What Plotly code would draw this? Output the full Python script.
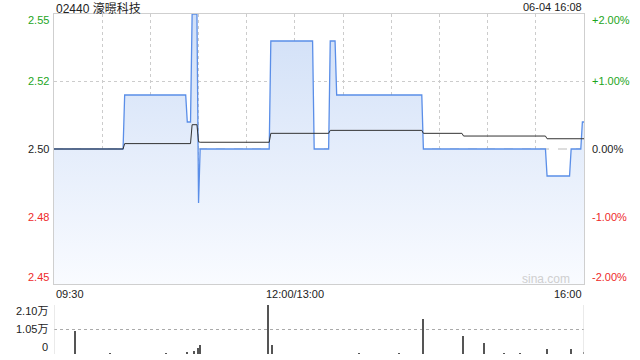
import plotly.graph_objects as go

# ---------------- data ----------------
title_text = "02440 濠暻科技"
date_text = "06-04 16:08"
prev_close = 2.50

price_times = ["09:30", "10:13", "10:14", "10:52", "10:53", "10:55", "10:56", "10:59",
               "11:00", "11:01", "11:44", "11:45", "13:11", "13:12", "13:21", "13:22",
               "13:25", "13:26", "14:19", "14:20", "15:36", "15:37", "15:51", "15:52",
               "15:58", "15:59", "16:00"]
price_vals = [2.50, 2.50, 2.52, 2.52, 2.51, 2.51, 2.55, 2.55,
              2.48, 2.50, 2.50, 2.54, 2.54, 2.50, 2.50, 2.54,
              2.54, 2.52, 2.52, 2.50, 2.50, 2.49, 2.49, 2.50,
              2.50, 2.51, 2.51]

avg_times = ["09:30", "10:13", "10:14", "10:55", "10:56", "10:59", "11:00", "11:01",
             "11:44", "11:45", "13:21", "13:22", "14:19", "14:20", "14:44", "14:45",
             "15:36", "15:37", "16:00"]
avg_vals = [2.500, 2.500, 2.502, 2.502, 2.509, 2.509, 2.5027, 2.5025,
            2.5025, 2.5058, 2.5058, 2.5069, 2.5069, 2.5058, 2.5058, 2.5048,
            2.5048, 2.5038, 2.5038]

vol_times = ["09:43", "10:53", "10:57", "11:00", "11:01", "11:43", "11:46",
             "14:20", "14:45", "14:58", "15:37", "15:52", "16:00",
             "10:05", "10:40", "13:40", "14:05", "15:10", "15:20"]
vol_vals = [9900, 1000, 1500, 2500, 4000, 21000, 4000,
            15000, 7800, 4800, 2000, 2000, 800,
            300, 400, 300, 400, 300, 350]

price_ticks = [2.45, 2.475, 2.50, 2.525, 2.55]
price_labels = ["2.45", "2.48", "2.50", "2.52", "2.55"]
pct_labels = ["-2.00%", "-1.00%", "0.00%", "+1.00%", "+2.00%"]
label_colors = ["#ee2a2a", "#ee2a2a", "#222222", "#1da51d", "#1da51d"]

vol_ticks = [0, 10500, 21000]
vol_labels = ["0", "1.05万", "2.10万"]

x_tick_pos = ["09:30", "12:00", "16:00"]
x_tick_labels = ["09:30", "12:00/13:00", "16:00"]


def tmin(t):
    h, m = map(int, t.split(":"))
    mins = h * 60 + m
    return mins - 570 if mins <= 720 else mins - 780 + 150


W, H = 640, 360
L, R = 54, 584
PT, PB = 14, 284
VT, VB = 305, 354

px = [tmin(t) for t in price_times]
ax = [tmin(t) for t in avg_times]
vx = [tmin(t) for t in vol_times]

FONT = "Liberation Sans, Arial, Noto Sans CJK SC, sans-serif"

fig = go.Figure()

fig.add_trace(go.Scatter(
    x=px, y=price_vals, mode="lines",
    line=dict(color="#5a8ee8", width=1.3),
    fill="tozeroy",
    fillgradient=dict(type="vertical", start=2.45, stop=2.55,
                      colorscale=[[0, "#f9fbff"], [1, "#d0dff7"]]),
    xaxis="x", yaxis="y", hoverinfo="skip"))

fig.add_trace(go.Scatter(
    x=ax, y=avg_vals, mode="lines",
    line=dict(color="#333333", width=1),
    xaxis="x", yaxis="y", hoverinfo="skip"))

fig.add_trace(go.Bar(
    x=vx, y=vol_vals, width=0.7,
    marker=dict(color="#555555", line=dict(width=0)),
    xaxis="x2", yaxis="y2", hoverinfo="skip"))

xdom = [L / W, R / W]
fig.update_layout(
    width=W, height=H,
    margin=dict(l=0, r=0, t=0, b=0),
    paper_bgcolor="white", plot_bgcolor="rgba(0,0,0,0)",
    showlegend=False,
    bargap=0,
    font=dict(family=FONT, size=11, color="#222"),
    xaxis=dict(domain=xdom, range=[0, 330], tickvals=list(range(0, 331, 30)),
               showticklabels=False, ticks="", showgrid=True, gridcolor="#cccccc",
               griddash="dot", gridwidth=1, zeroline=False,
               showline=True, linecolor="#cfcfcf", linewidth=1, mirror=True),
    yaxis=dict(domain=[1 - PB / H, 1 - PT / H], range=[2.45, 2.55],
               tickvals=[2.475, 2.525], showticklabels=False, ticks="",
               showgrid=True, gridcolor="#cccccc", griddash="dot", zeroline=False,
               showline=True, linecolor="#cfcfcf", linewidth=1, mirror=True),
    xaxis2=dict(domain=xdom, range=[0, 330], showticklabels=False, ticks="",
                showgrid=False, zeroline=False, anchor="y2"),
    yaxis2=dict(domain=[1 - VB / H, 1 - VT / H], range=[0, 21000], anchor="x2",
                tickvals=vol_ticks, showticklabels=False, ticks="",
                showgrid=True, gridcolor="#aaaaaa", griddash="dot", zeroline=False),
)

shapes = []
# prev close dashed line
shapes.append(dict(type="line", xref="x", yref="y", x0=0, x1=330,
                   y0=prev_close, y1=prev_close,
                   line=dict(color="#bbbbbb", width=1, dash="dash"), layer="below"))
# volume panel side borders
for xv in (0, 330):
    shapes.append(dict(type="line", xref="x2", yref="y2", x0=xv, x1=xv, y0=0, y1=21000,
                       line=dict(color="#d5d5d5", width=1)))
fig.update_layout(shapes=shapes)

ann = []
ann.append(dict(text=title_text, xref="paper", yref="paper", x=L / W, y=1 - 8 / H,
                xanchor="left", yanchor="middle", showarrow=False,
                font=dict(size=12, color="#222")))
ann.append(dict(text=date_text, xref="paper", yref="paper", x=R / W, y=1 - 7 / H,
                xanchor="right", yanchor="middle", showarrow=False,
                font=dict(size=11, color="#222")))
shift = {2.45: 7, 2.55: -6}
for v, lab, pl, c in zip(price_ticks, price_labels, pct_labels, label_colors):
    ys = shift.get(v, 0)
    ann.append(dict(text=lab, xref="paper", yref="y", x=51 / W, y=v, yshift=ys,
                    xanchor="right", yanchor="middle", showarrow=False,
                    font=dict(size=11, color=c)))
    ann.append(dict(text=pl, xref="paper", yref="y", x=590 / W, y=v, yshift=ys,
                    xanchor="left", yanchor="middle", showarrow=False,
                    font=dict(size=11, color=c)))
vshift = {0: 7, 21000: -6, 10500: 1}
for v, lab in zip(vol_ticks, vol_labels):
    ann.append(dict(text=lab, xref="paper", yref="y2", x=50 / W, y=v, yshift=vshift[v],
                    xanchor="right", yanchor="middle", showarrow=False,
                    font=dict(size=11, color="#222")))
anchors = ["left", "center", "right"]
for t, lab, a in zip(x_tick_pos, x_tick_labels, anchors):
    ann.append(dict(text=lab, xref="x", yref="paper", x=tmin(t), y=1 - 294 / H,
                    xanchor=a, yanchor="middle", showarrow=False,
                    font=dict(size=11, color="#222")))
ann.append(dict(text="sina.com", xref="paper", yref="paper", x=572 / W, y=1 - 279 / H,
                xanchor="right", yanchor="middle", showarrow=False,
                font=dict(size=12, color="#cfcfcf")))
fig.update_layout(annotations=ann)

fig.write_html("out.html")
